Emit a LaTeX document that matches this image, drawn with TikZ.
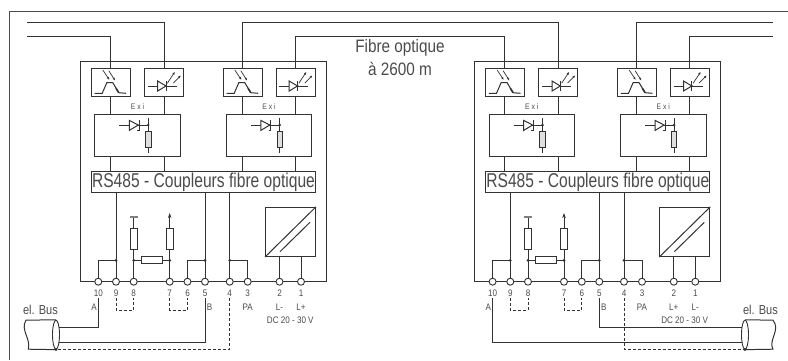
\documentclass[tikz,border=0pt]{standalone}
\usepackage{fontspec}
\setmainfont[FakeStretch=0.85]{Liberation Sans}
\newfontfamily\tallfont[FakeStretch=0.78]{Liberation Sans}
\usetikzlibrary{shapes.geometric,arrows.meta,calc}
\definecolor{WireCol}{RGB}{50,50,50}
\definecolor{TextCol}{RGB}{75,75,75}
\tikzset{
    wire/.style={color=WireCol,line width=1pt},
    block/.style={draw=WireCol,line width=1pt,fill=white,inner sep=0pt},
    sensor/.style={block,minimum width=39pt,minimum height=28.5pt},
    barrier/.style={block,minimum width=85.5pt,minimum height=42.5pt},
    resist/.style={block,line width=0.8pt},
    term/.style={circle,draw=WireCol,line width=0.9pt,fill=white,inner sep=0pt,minimum size=7pt},
    junct/.style={circle,fill=WireCol,inner sep=0pt,minimum size=3pt},
    num/.style={text=TextCol,font=\fontsize{9.5}{10}\selectfont,inner sep=1pt,text height=6.5pt,text depth=0pt},
    small/.style={text=TextCol,font=\fontsize{9.5}{10}\selectfont,inner sep=0pt},
    big/.style={text=TextCol,font=\fontsize{18}{21}\selectfont,inner sep=0pt,align=center},
    beam/.style={wire,line width=0.7pt,-{Latex[open,length=3pt,width=2.4pt]}},
}
\newcommand{\rxbox}[2]{
    \node[sensor] (#1) at (#2,82.7) {};
    \begin{scope}[shift={(#2,82.7)}]
        \draw[wire] (-16,10.6) -- (-8.3,10.6) -- (-3.7,0) -- (2.3,0) -- (8.3,10) -- (15.7,10.6);
        \draw[wire,line width=1.6pt] (5.5,5.5) -- (8.3,10);
        \draw[beam] (-7.7,-12.7) -- (-1,-2.7);
        \draw[beam] (-1.7,-12) -- (4.7,-2);
    \end{scope}
}
\newcommand{\txbox}[2]{
    \node[sensor] (#1) at (#2,82.7) {};
    \begin{scope}[shift={(#2,82.7)}]
        \draw[wire] (-16.3,3.3) -- (12.7,3.3);
        \draw[wire,fill=white] (-6.3,-1.7) -- (-6.3,8.3) -- (2,3.3) -- cycle;
        \draw[wire] (2,-1.7) -- (2,8.3);
        \fill[WireCol] (2,3.3) circle (1.2pt);
        \draw[beam] (3.3,0.6) -- (11,-11);
        \draw[beam] (9.3,0.3) -- (17,-7.4);
    \end{scope}
}
\newcommand{\barbox}[2]{
    \node[barrier] (#1) at (#2,135.7) {};
    \begin{scope}[shift={(#2,135.7)}]
        \draw[wire] (-18.2,-10.7) -- (10.8,-10.7);
        \draw[wire,fill=white] (-8.2,-15.3) -- (-8.2,-5.3) -- (0.8,-10.7) -- cycle;
        \draw[wire] (-0.5,-5.3) -- (1.8,-5.3) -- (1.8,-15.3);
        \draw[wire] (10.8,-17.4) -- (10.8,17.6);
        \fill[WireCol] (10.8,-10.7) circle (1.4pt);
        \draw[wire,line width=0.8pt,fill=gray!25] (8,-4) rectangle (13.5,11.6);
    \end{scope}
}
\newcommand{\coupler}[3]{
    \node[block,fill=none,minimum width=245.5pt,minimum height=220.2pt] (#1frame) at (203.25,171.6) {};
    \rxbox{#1rxa}{110.5}
    \txbox{#1txa}{164}
    \rxbox{#1rxb}{242.5}
    \txbox{#1txb}{295.5}
    \barbox{#1bara}{137.5}
    \barbox{#1barb}{269}
    \node[block,minimum width=224pt,minimum height=20.7pt,text=TextCol,font=\tallfont\fontsize{20}{20}\selectfont] (#1rs) at (203.5,182.3) {RS485 - Coupleurs fibre optique};
    \node[small,font=\fontsize{8}{9}\selectfont] (#1exa) at (137.5,106.7) {E x i};
    \node[small,font=\fontsize{8}{9}\selectfont] (#1exb) at (269,106.7) {E x i};
    \foreach \boxa/\boxb in {rxa/bara,txa/bara,rxb/barb,txb/barb} {
        \draw[wire] (#1\boxa.south) -- (#1\boxa.south |- #1\boxb.north);
        \draw[wire] (#1\boxa.south |- #1\boxb.south) -- (#1\boxa.south |- #1rs.north);
    }
    \foreach \tnum/\tpos in {10/98.3,9/116,8/133.7,7/169.7,6/187.5,5/205,4/229.7,3/247.7,2/279.5,1/301} {
        \node[term] (#1t\tnum) at (\tpos,281.7) {};
        \node[num] (#1n\tnum) at (\tpos,293.7) {\tnum};
    }
    \node[resist,minimum width=7pt,minimum height=20.5pt] (#1rup) at (133.7,238.8) {};
    \node[resist,minimum width=7pt,minimum height=20.5pt] (#1rdn) at (169.7,238.8) {};
    \node[resist,minimum width=20.5pt,minimum height=7pt] (#1rmid) at (151.7,260.3) {};
    \node[block,minimum width=50pt,minimum height=49.2pt] (#1conv) at (290.5,231.9) {};
    \coordinate (#1topbar) at (133.7,216.5);
    \coordinate (#1toparrow) at (169.7,213);
    \coordinate (#1j) at (0,260.3);
    \draw[wire] (#1t9) -- (#1t9 |- #1rs.south);
    \draw[wire] (#1t5) -- (#1t5 |- #1rs.south);
    \draw[wire] (#1t4) -- (#1t4 |- #1rs.south);
    \draw[wire] (#1t10) |- (#1t9 |- #1j);
    \draw[wire] (#1t6) |- (#1t5 |- #1j);
    \draw[wire] (#1t3) |- (#1t4 |- #1j);
    \draw[wire] (#1t8) -- (#1rup.south);
    \draw[wire] (#1t7) -- (#1rdn.south);
    \draw[wire] (#1rup.north) -- (#1topbar);
    \draw[wire,line width=2pt,color=gray] ($(#1topbar)+(-4,0)$) -- ($(#1topbar)+(4,0)$);
    \draw[wire,-{Stealth[length=5pt,width=3.5pt]}] (#1rdn.north) -- (#1toparrow);
    \draw[wire] (#1rmid.west) -- (#1rmid.west -| #1t8);
    \draw[wire] (#1rmid.east) -- (#1rmid.east -| #1t7);
    \foreach \jx in {t9,t8,t7,t5,t4} {
        \node[junct] (#1d\jx) at (#1\jx |- #1j) {};
    }
    \draw[wire] (#1t2) -- (#1t2 |- #1conv.south);
    \draw[wire] (#1t1) -- (#1t1 |- #1conv.south);
    \draw[wire] (#1conv.south west) -- (#1conv.north east);
    \draw[wire] ($(#1conv.center)+(-10.5,19.8)$) -- ($(#1conv.center)+(19.5,-9.6)$);
    \draw[wire,densely dashed] (#1n9.south) -- ++(0,12) -| (#1n8.south);
    \draw[wire,densely dashed] (#1n7.south) -- ++(0,12) -| (#1n6.south);
    \node[small] (#1la) at (94,307.7) {A};
    \node[small] (#1lb) at (209.5,307.7) {B};
    \node[small] (#1lpa) at (247.7,307.7) {PA};
    \node[small] (#1ltwo) at (279.5,307.7) {#2};
    \node[small] (#1lone) at (301,307.7) {#3};
    \node[small] (#1ldc) at (290.3,320) {DC 20 - 30 V};
}

\begin{document}
\begin{tikzpicture}[x=1pt,y=-1pt]
    \useasboundingbox (0,0) rectangle (788,360);
    \draw[wire,color=TextCol] (9.5,360) -- (9.5,11.5) -- (788,11.5);

    \begin{scope}
        \coupler{l}{L-}{L+}
    \end{scope}
    \begin{scope}[shift={(394.3,0)}]
        \coupler{r}{L+}{L-}
    \end{scope}

    \node[big] (fibre) at (400,57.5) {Fibre optique\\[1.5pt]à 2600 m};

    \coordinate (inhi) at (27,22);
    \coordinate (inlo) at (27,36);
    \coordinate (outhi) at (773,22);
    \coordinate (outlo) at (773,36);
    \draw[wire] (inhi) -| (ltxa.north);
    \draw[wire] (inlo) -| (lrxa.north);
    \draw[wire] (lrxb.north) -- (lrxb.north |- inhi) -| (rtxa.north);
    \draw[wire] (ltxb.north) -- (ltxb.north |- inlo) -| (rrxa.north);
    \draw[wire] (outhi) -| (rrxb.north);
    \draw[wire] (outlo) -| (rtxb.north);

    \node[ellipse,draw=WireCol,line width=0.9pt,inner sep=0pt,minimum width=7pt,minimum height=29pt] (lcable) at (56,334.7) {};
    \node[ellipse,draw=WireCol,line width=0.9pt,inner sep=0pt,minimum width=7pt,minimum height=29pt] (rcable) at (745,334.7) {};
    \coordinate (ledgetop) at (26,320.2);
    \coordinate (ledgebot) at (28.3,349.2);
    \coordinate (redgetop) at (773,320.2);
    \coordinate (redgebot) at (773,349.2);
    \draw[wire] (lcable.north) -- (ledgetop) .. controls (20,330) and (31,338) .. (ledgebot) -- (lcable.south);
    \draw[wire] (rcable.north) -- (redgetop) .. controls (781,330) and (768,340) .. (redgebot) -- (rcable.south);
    \node[big,font=\fontsize{13}{15}\selectfont] (lbus) at (40.5,310.3) {el. Bus};
    \node[big,font=\fontsize{13}{15}\selectfont] (rbus) at (760.5,310.3) {el. Bus};

    \coordinate (lwa) at (59,327.7);
    \coordinate (lwb) at (59,342.3);
    \coordinate (rwa) at (742,342.3);
    \coordinate (rwb) at (742,327.7);
    \draw[wire] (ln10.south) |- (lwa);
    \draw[wire] (ln5.south) |- (lwb);
    \draw[wire] (rn10.south) |- (rwa);
    \draw[wire] (rn5.south) |- (rwb);
    \draw[wire,densely dashed] (ln4.south) |- (lcable.south);
    \draw[wire,densely dashed] (rn4.south) |- (rcable.south);
    \node[junct] (ldot) at (lcable.south) {};
    \node[junct] (rdot) at (rcable.south) {};
\end{tikzpicture}
\end{document}
